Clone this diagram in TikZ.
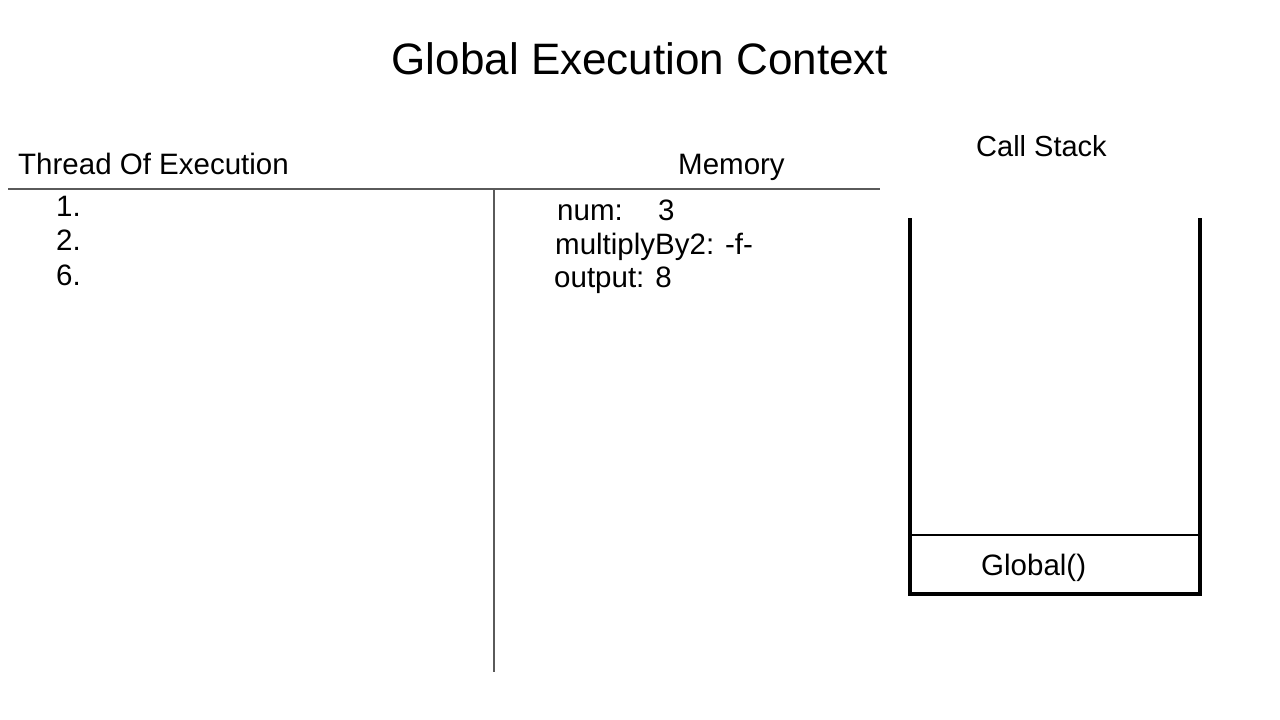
\documentclass[tikz,border=0pt]{standalone}
\usepackage{fontspec}
\setmainfont{Liberation Sans}
\usetikzlibrary{positioning}

\begin{document}
\begin{tikzpicture}[x=1pt, y=-1pt,
    titolo/.style={font=\fontsize{44}{52}\selectfont, anchor=base, inner sep=0pt},
    head/.style={font=\fontsize{29.5}{35}\selectfont, anchor=base west, inner sep=0pt},
    item/.style={font=\fontsize{29.5}{35}\selectfont, anchor=base west, inner sep=0pt},
    riga/.style={draw=colorRiga, line width=2pt},
    parete/.style={draw=black, line width=4pt, line join=miter}
    ]
    % Definizione colori
    \definecolor{colorRiga}{RGB}{90, 90, 90}

    % Area del disegno
    \useasboundingbox (0,0) rectangle (1280,720);

    % Titolo
    \node[titolo] (titolo) at (640,74) {Global Execution Context};

    % Intestazioni
    \node[head] (thread) at (18,174) {Thread Of Execution};
    \node[head] (memoria) at (678,174) {Memory};
    \node[head, font=\fontsize{29}{35}\selectfont] (stack) at (976,156) {Call Stack};

    % Righe di separazione
    \coordinate (rigaA) at (8,189);
    \coordinate (rigaB) at (880,189);
    \coordinate (colA) at (494,189);
    \coordinate (colB) at (494,672);
    \draw[riga] (rigaA) -- (rigaB);
    \draw[riga] (colA) -- (colB);

    % Thread of execution
    \node[item] (passo1) at (56,216) {1.};
    \node[item] (passo2) at (56,250) {2.};
    \node[item] (passo6) at (56,285) {6.};

    % Memoria
    \node[item] (num) at (557,220) {num:\hspace{1.2em}3};
    \node[item] (funz) at (555,254) {multiplyBy2: -f-};
    \node[item] (output) at (554,287) {output: 8};

    % Call stack
    \coordinate (pilaA) at (910,218);
    \coordinate (pilaB) at (910,594);
    \coordinate (pilaC) at (1200,594);
    \coordinate (pilaD) at (1200,218);
    \draw[parete] (pilaA) -- (pilaB) -- (pilaC) -- (pilaD);
    \draw[black, line width=1.2pt] (910,535) -- (1200,535);
    \node[item] (globale) at (981,575) {Global()};
\end{tikzpicture}
\end{document}
